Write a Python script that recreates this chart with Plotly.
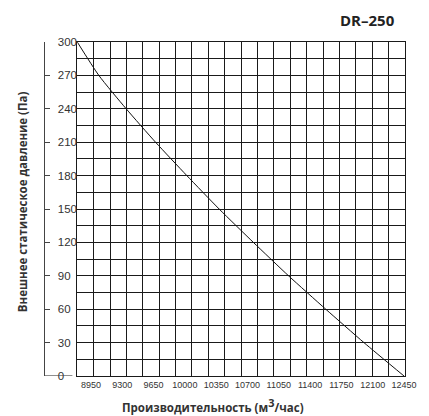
import plotly.graph_objects as go

# Data
flow = [8797, 9038, 9344, 9672, 10022, 10383, 10766, 11159, 11575, 12002, 12450]   # м3/час
pressure = [300, 270, 240, 210, 180, 150, 120, 90, 60, 30, 0]                       # Па
x_ticks = [8950, 9300, 9650, 10000, 10350, 10700, 11050, 11400, 11750, 12100, 12450]
y_ticks = [0, 30, 60, 90, 120, 150, 180, 210, 240, 270, 300]

X0, X1 = 8797, 12461
GRID = "#1a1a1a"
FONT = "Open Sans"
PW = 369  # paper width in px (429 - 44 - 16)

fig = go.Figure()
fig.add_trace(go.Scatter(x=flow, y=pressure, mode="lines",
                         line=dict(color="#111", width=1, shape="spline", smoothing=0.6),
                         hoverinfo="skip", showlegend=False))
# invisible trace for the outer y axis
fig.add_trace(go.Scatter(x=[X0], y=[0], yaxis="y2", mode="markers",
                         marker=dict(opacity=0), hoverinfo="skip", showlegend=False))

fig.update_layout(
    width=429, height=416,
    margin=dict(l=44, r=16, t=42, b=40),
    paper_bgcolor="white", plot_bgcolor="white",
    font=dict(family="Liberation Sans, Arial", color="#333"),
    xaxis=dict(
        domain=[34/PW, 1], range=[X0, X1],
        tickvals=x_ticks, ticktext=[str(v) for v in x_ticks],
        tickfont=dict(size=9, color="#333"), ticks="", showgrid=False,
        ticklabeloverflow="allow",
        minor=dict(tick0=X0, dtick=(X1 - X0) / 20, showgrid=True,
                   gridcolor=GRID, gridwidth=1.2, ticks=""),
        showline=True, linecolor=GRID, linewidth=1.2, mirror=True,
        zeroline=False,
    ),
    yaxis=dict(
        range=[0, 300], dtick=15, showticklabels=False, ticks="",
        showgrid=True, gridcolor=GRID, gridwidth=1.2,
        showline=True, linecolor=GRID, linewidth=1.2, mirror=True,
        zeroline=False,
    ),
    yaxis2=dict(
        overlaying="y", anchor="free", position=0, side="left",
        range=[0, 300], tickvals=y_ticks,
        ticks="inside", ticklen=5, tickcolor="#444", tickwidth=1,
        ticklabelposition="inside", ticklabelstandoff=7,
        ticklabeloverflow="allow",
        tickfont=dict(size=11.5, color="#333"),
        showline=True, linecolor="#444", linewidth=1.2,
        showgrid=False, zeroline=False,
    ),
    shapes=[dict(type="line", xref="paper", yref="y", x0=0, x1=29/PW, y0=0, y1=0,
                 line=dict(color="#444", width=1.2))],
    annotations=[
        dict(text="<b>DR–250</b>", xref="paper", yref="paper",
             x=(405-44)/PW, y=1, xanchor="right", yanchor="middle", yshift=22,
             showarrow=False, font=dict(family=FONT, size=15, color="#222")),
        dict(text="<b>Внешнее статическое давление (Па)</b>", xref="paper", yref="paper",
             x=(12-44)/PW, y=(376-202)/334, textangle=-90, showarrow=False,
             font=dict(family=FONT, size=11.5, color="#333")),
        dict(text="<b>Производительность (м<sup><span style='font-size:11px'>3</span></sup>/час)</b>",
             xref="paper", yref="paper",
             x=(217-44)/PW, y=0, yanchor="middle", yshift=-(405-376), showarrow=False,
             font=dict(family=FONT, size=11.5, color="#333")),
    ],
)

fig.write_html("out.html", config={"displayModeBar": False},
               post_script="document.body.style.margin='0';document.body.style.padding='0';")
